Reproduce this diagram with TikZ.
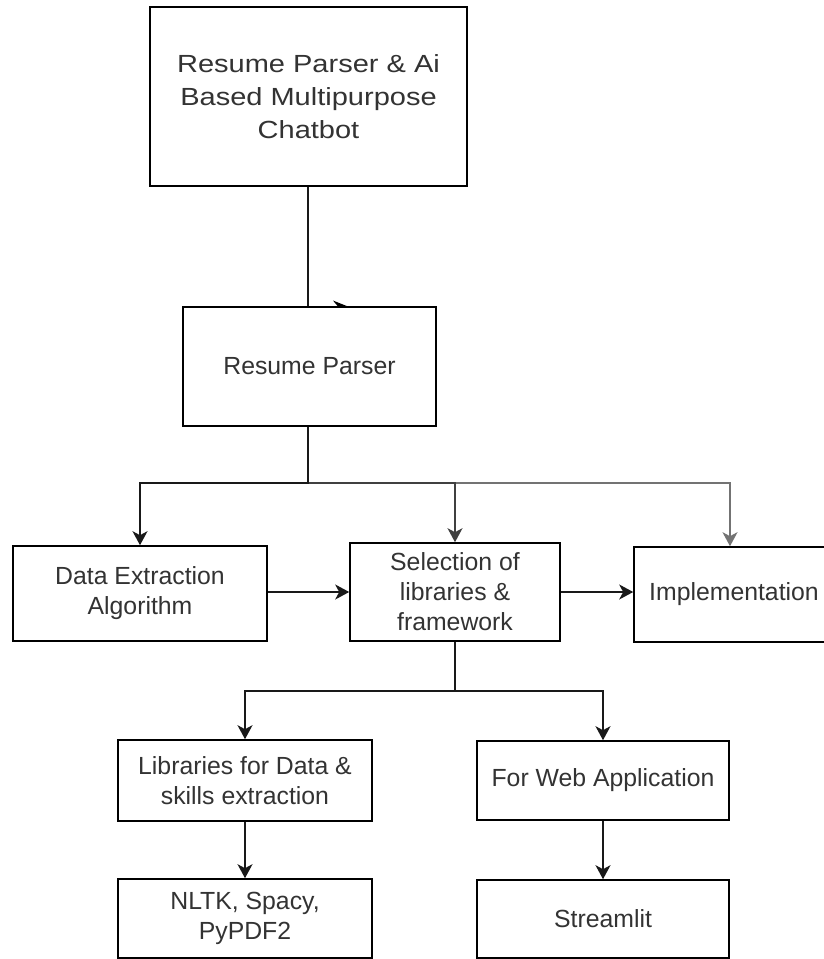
\documentclass[tikz,border=0pt]{standalone}
\usepackage{fontspec}
\setmainfont{Liberation Sans}
\usetikzlibrary{arrows.meta}
\newcommand{\wideline}[1]{\scalebox{1.17}[1]{#1}}
\tikzset{
  box/.style={draw=black, line width=1.6pt, fill=white, align=center, inner sep=0pt,
    text=black!80, font=\fontsize{24.8}{30}\selectfont},
  conn/.style={line width=1.6pt, draw=black!90},
  arr/.style={conn, -{Stealth[length=14pt,width=15pt,inset=4pt]}},
}
\begin{document}
\begin{tikzpicture}[x=1pt,y=-1pt]
\clip (0,0) rectangle (824,959);
\fill[white] (0,0) rectangle (824,959);
% nodes
\node[box, minimum width=317pt, minimum height=179pt, font=\fontsize{24.8}{33}\selectfont] (top) at (308.5,96.5) {\wideline{Resume Parser \& Ai}\\\wideline{Based Multipurpose}\\\wideline{Chatbot}};
\node[box, minimum width=253pt, minimum height=119pt] (rp) at (309.5,366.5) {Resume Parser};
\node[box, minimum width=254pt, minimum height=95pt] (de) at (140,593.5) {Data Extraction\\Algorithm};
\node[box, minimum width=210pt, minimum height=98pt] (sel) at (455,592) {Selection of\\libraries \&\\framework};
\node[box, minimum width=200pt, minimum height=95pt] (impl) at (734,594.5) {Implementation};
\node[box, minimum width=254pt, minimum height=81pt] (lib) at (245,780.5) {Libraries for Data \&\\skills extraction};
\node[box, minimum width=252pt, minimum height=79pt] (web) at (603,780.5) {For Web Application};
\node[box, minimum width=254pt, minimum height=79pt] (nltk) at (245,918.5) {NLTK, Spacy,\\PyPDF2};
\node[box, minimum width=252pt, minimum height=78pt] (st) at (603,919) {Streamlit};
% top to resume parser
\draw[conn] (top.south -| 308,0) -- (rp.north -| 308,0);
\fill[black] (333,300.5) -- (348,306.5) -- (338,306.5) -- cycle;
% resume parser to three
\coordinate (hub) at (308,483);
\draw[arr, draw=black!55] (hub) -| ([xshift=-4pt]impl.north);
\draw[arr, draw=black!75] (hub) -| (sel.north);
\draw[arr] (rp.south -| hub) -- (hub) -| (de.north);
% horizontal
\draw[arr] (de.east |- sel.west) -- (sel.west);
\draw[arr] (sel.east) -- (sel.east -| impl.west);
% selection to two
\coordinate (hub2) at (455,691);
\draw[arr] (sel.south) -- (hub2) -| (lib.north);
\draw[arr] (hub2) -| (web.north);
\draw[arr] (lib.south) -- (nltk.north);
\draw[arr] (web.south) -- (st.north);
\end{tikzpicture}
\end{document}
